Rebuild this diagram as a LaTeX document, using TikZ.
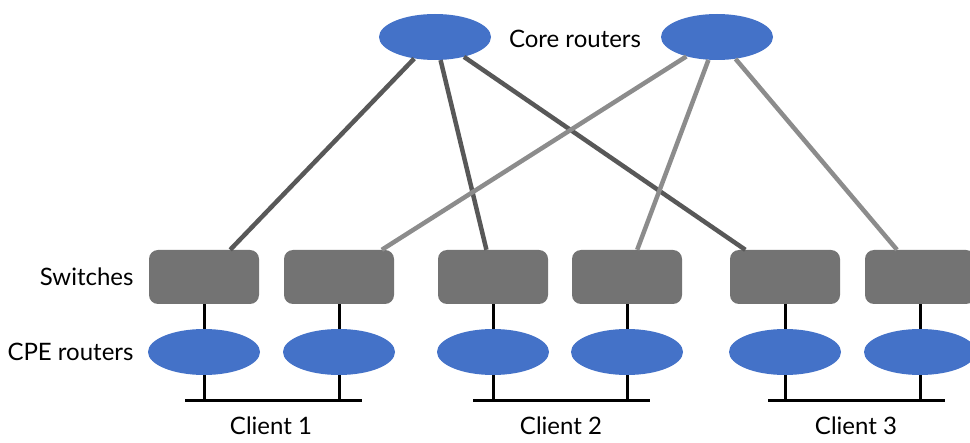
\documentclass[tikz,border=0pt]{standalone}
\usepackage{fontspec}
\setmainfont{Lato}
\usetikzlibrary{shapes.geometric}
\definecolor{routerblue}{HTML}{4472C8}
\definecolor{switchgray}{HTML}{737373}
\definecolor{linkdark}{HTML}{585858}
\definecolor{linklight}{HTML}{8C8C8C}
\tikzset{
  router/.style={ellipse, fill=routerblue, minimum width=112pt, minimum height=46pt, inner sep=0pt},
  switchbox/.style={rectangle, rounded corners=9pt, fill=switchgray, minimum width=110pt, minimum height=54pt, inner sep=0pt},
  lbl/.style={font=\fontsize{24}{28}\selectfont},
  darklink/.style={draw=linkdark, line width=4.5pt},
  lightlink/.style={draw=linklight, line width=4.5pt},
  tap/.style={draw=black, line width=3pt}
}

\begin{document}
\begin{tikzpicture}[x=1pt, y=-1pt]
  \useasboundingbox (0,0) rectangle (970,443);
  % Core routers
  \node[router] (core1) at (435,37) {};
  \node[router] (core2) at (717,37) {};
  \node[lbl] (corelbl) at (575,39) {Core routers};
  % Switches and CPE routers
  \foreach \i/\x in {1/204,2/339,3/493,4/627,5/785,6/920} {
    \node[switchbox] (sw\i) at (\x,277) {};
    \node[router] (cpe\i) at (\x,352) {};
    \coordinate (tap\i) at (\x,401);
  }
  \node[lbl, anchor=east] (swlbl) at (137,277) {Switches};
  \node[lbl, anchor=east] (cpelbl) at (137,352) {CPE routers};
  % Uplinks
  \foreach \s in {1,3,5} \draw[darklink] (core1) -- (sw\s);
  \foreach \s in {2,4,6} \draw[lightlink] (core2) -- (sw\s);
  % Access links
  \foreach \i in {1,...,6} {
    \draw[tap] (sw\i) -- (cpe\i);
    \draw[tap] (cpe\i) -- (tap\i);
  }
  % Client LANs
  \coordinate (lan1w) at (185,401);
  \coordinate (lan1e) at (362,401);
  \coordinate (lan2w) at (473,401);
  \coordinate (lan2e) at (650,401);
  \coordinate (lan3w) at (768,401);
  \coordinate (lan3e) at (945,401);
  \draw[tap] (lan1w) -- (lan1e);
  \draw[tap] (lan2w) -- (lan2e);
  \draw[tap] (lan3w) -- (lan3e);
  \node[lbl, anchor=base, inner sep=1pt] (client1) at (271,435) {Client 1};
  \node[lbl, anchor=base, inner sep=1pt] (client2) at (561,435) {Client 2};
  \node[lbl, anchor=base, inner sep=1pt] (client3) at (856,435) {Client 3};
\end{tikzpicture}
\end{document}
